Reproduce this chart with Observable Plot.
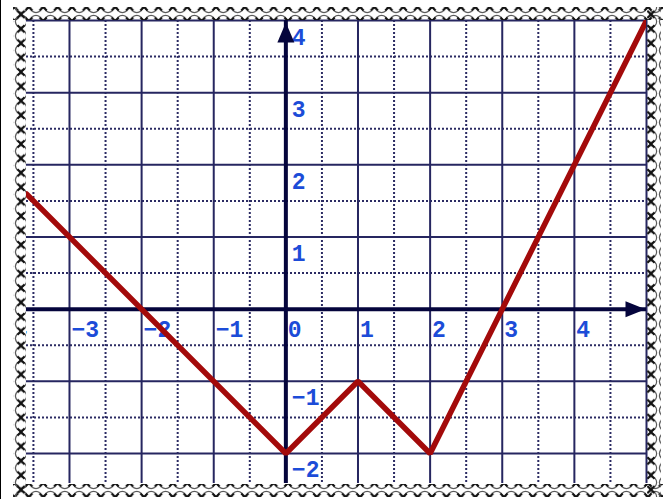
<!DOCTYPE html>
<html>
<head>
<meta charset="utf-8">
<script src="https://cdn.jsdelivr.net/npm/d3@7"></script>
<script src="https://cdn.jsdelivr.net/npm/@observablehq/plot@0.6"></script>
<style>
  html, body { margin: 0; padding: 0; background: #fff; }
  #chart svg { display: block; }
</style>
</head>
<body>
<div id="chart"></div>
<script>
// ---- data ----
const xMajor = [-3, -2, -1, 0, 1, 2, 3, 4, 5];
const xMinor = [-3.5, -2.5, -1.5, -0.5, 0.5, 1.5, 2.5, 3.5, 4.5];
const yMajor = [-2, -1, 0, 1, 2, 3, 4];
const yMinor = [-1.5, -0.5, 0.5, 1.5, 2.5, 3.5];
const xTickLabels = [-4, -3, -2, -1, 0, 1, 2, 3, 4];
const yTickLabels = [-2, -1, 1, 2, 3, 4];
const curveX = [-3.596, 0, 1, 2, 5];
const curveY = [1.596, -2, -1, -2, 4];

const curve = curveX.map((x, i) => ({x, y: curveY[i]}));
const fmt = d => d < 0 ? "\u2212" + Math.abs(d) : String(d);

const upArrow = {draw(ctx) { ctx.moveTo(0, 2); ctx.lineTo(-8.5, 22); ctx.lineTo(8.5, 22); ctx.closePath(); }};
const rightArrow = {draw(ctx) { ctx.moveTo(-1, 0); ctx.lineTo(-21, -8); ctx.lineTo(-21, 8); ctx.closePath(); }};

const labelFont = {fill: "#1c4cd8", fontSize: 23, fontWeight: "bold", fontFamily: "Liberation Mono, DejaVu Sans Mono, monospace"};

const chart = Plot.plot({
  width: 665,
  height: 499,
  marginLeft: 26,
  marginRight: 19,
  marginTop: 20,
  marginBottom: 16,
  x: {domain: [-3.596, 5], axis: null},
  y: {domain: [-2.416, 4], axis: null},
  marks: [
    Plot.ruleX(xMinor, {stroke: "#2b2b63", strokeWidth: 2, strokeDasharray: "2,2"}),
    Plot.ruleY(yMinor, {stroke: "#2b2b63", strokeWidth: 2, strokeDasharray: "2,2"}),
    Plot.ruleX(xMajor, {stroke: "#262660", strokeWidth: 2}),
    Plot.ruleY(yMajor, {stroke: "#262660", strokeWidth: 2}),
    Plot.ruleX([0], {stroke: "#05053c", strokeWidth: 4}),
    Plot.ruleY([0], {stroke: "#05053c", strokeWidth: 4}),
    Plot.text(xTickLabels, {x: d => d, y: 0, text: fmt, textAnchor: "start", lineAnchor: "bottom", dx: 2, dy: 28, clip: true, ...labelFont}),
    Plot.text(yTickLabels, {x: 0, y: d => d, text: fmt, textAnchor: "start", lineAnchor: "bottom", dx: 6, dy: 24, clip: true, ...labelFont}),
    Plot.line(curve, {x: "x", y: "y", stroke: "#a30a0a", strokeWidth: 5.5, strokeLinejoin: "miter", clip: true}),
    Plot.dot([{x: 0, y: 4}], {x: "x", y: "y", symbol: upArrow, fill: "#05053c", stroke: "none"}),
    Plot.dot([{x: 5, y: 0}], {x: "x", y: "y", symbol: rightArrow, fill: "#05053c", stroke: "none"})
  ]
});

// decorative cross-chain border
const svg = d3.select(chart);
const defs = svg.insert("defs", ":first-child");
function makePattern(id, rotate) {
  const p = defs.append("pattern").attr("id", id).attr("patternUnits", "userSpaceOnUse")
    .attr("width", 14.4).attr("height", 14);
  if (rotate) p.attr("patternTransform", "rotate(90)");
  const g = p.append("g").attr("fill", "none");
  g.append("circle").attr("cx", 7.2).attr("cy", 7).attr("r", 5.6).attr("stroke", "#5a5a5a").attr("stroke-width", 1.3);
  for (const cx of [0, 14.4]) {
    g.append("path").attr("d", `M${cx-3.5},${3.5}L${cx+3.5},${10.5}M${cx-3.5},${10.5}L${cx+3.5},${3.5}`)
      .attr("stroke", "#111").attr("stroke-width", 2.2);
  }
}
makePattern("bH", false);
makePattern("bV", true);
const deco = svg.append("g");
deco.append("rect").attr("x", 13).attr("y", 7).attr("width", 650).attr("height", 13).attr("fill", "url(#bH)");
deco.append("rect").attr("x", 13).attr("y", 484).attr("width", 650).attr("height", 13).attr("fill", "url(#bH)");
deco.append("rect").attr("x", 13).attr("y", 7).attr("width", 13).attr("height", 490).attr("fill", "url(#bV)");
deco.append("rect").attr("x", 647).attr("y", 7).attr("width", 14).attr("height", 490).attr("fill", "url(#bV)");
deco.append("rect").attr("x", 0).attr("y", 0).attr("width", 1).attr("height", 499).attr("fill", "#000");

document.getElementById("chart").appendChild(chart);
</script>
</body>
</html>
